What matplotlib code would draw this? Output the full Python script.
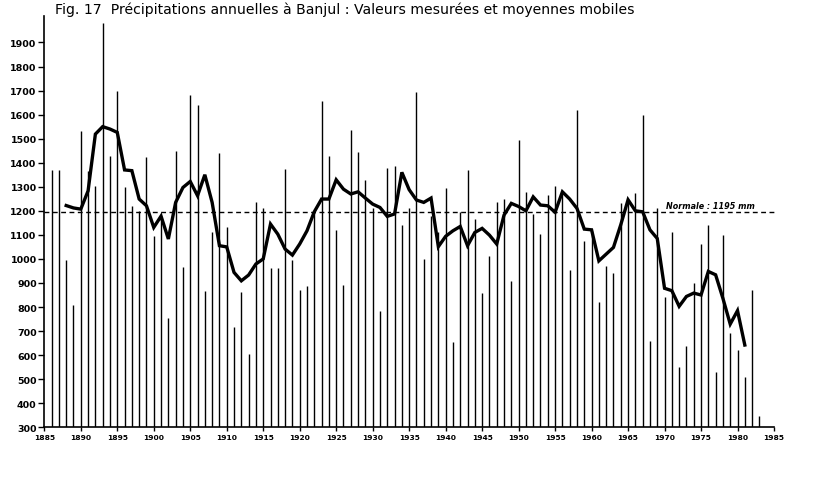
import matplotlib
matplotlib.use("Agg")
import matplotlib.pyplot as plt

# ---- data ----
years = list(range(1886, 1984))
rainfall = [1370, 1368, 995, 810, 1530, 1367, 1302, 1980, 1428, 1700,
            1300, 1220, 1200, 1422, 1097, 1180, 753, 1448, 968, 1680,
            1638, 866, 1112, 1442, 1131, 718, 864, 604, 1238, 1210,
            963, 962, 1372, 997, 872, 889, 1196, 1656, 1428, 1122,
            891, 1538, 1444, 1327, 1210, 782, 1380, 1386, 1139, 1211,
            1695, 1000, 1180, 1110, 1293, 656, 1194, 1368, 1166, 858,
            1013, 1238, 1249, 909, 1496, 1277, 1187, 1103, 1265, 1304,
            1279, 955, 1620, 1075, 1116, 822, 972, 941, 1231, 1245,
            1273, 1598, 660, 1210, 840, 1110, 552, 640, 900, 1062,
            1143, 529, 1100, 692, 621, 511, 871, 346]

ma_years = list(range(1888, 1982))
moving_avg = [1222, 1212, 1207, 1283, 1519, 1550, 1540, 1526, 1370, 1367,
              1249, 1221, 1131, 1178, 1083, 1235, 1297, 1322, 1263, 1350,
              1235, 1055, 1050, 944, 909, 933, 979, 1000, 1145, 1103,
              1041, 1016, 1062, 1117, 1196, 1249, 1249, 1329, 1290, 1270,
              1279, 1253, 1228, 1214, 1177, 1187, 1360, 1288, 1245, 1235,
              1253, 1051, 1094, 1117, 1135, 1055, 1110, 1127, 1099, 1062,
              1182, 1231, 1218, 1200, 1258, 1224, 1221, 1194, 1279, 1249,
              1210, 1124, 1121, 992, 1020, 1048, 1142, 1246, 1200, 1196,
              1121, 1085, 878, 868, 803, 844, 858, 850, 948, 934,
              836, 729, 785, 642]

normal_value = 1195
title_text = "Fig. 17  Précipitations annuelles à Banjul : Valeurs mesurées et moyennes mobiles"
normal_label = "Normale : 1195 mm"
ytick_vals = list(range(300, 2000, 100))
xtick_vals = list(range(1885, 1990, 5))

# ---- figure ----
W, H = 814, 489
fig = plt.figure(figsize=(W / 100, H / 100), dpi=100)
left_px, right_px, bottom_px, top_px = 44.3, 774.0, 428.3, 17.0
ax = fig.add_axes([left_px / W, (H - bottom_px) / H,
                   (right_px - left_px) / W, (bottom_px - top_px) / H])

ax.vlines(years, 300, rainfall, color="black", linewidth=1.0)
ax.plot(ma_years, moving_avg, color="black", linewidth=2.4,
        solid_joinstyle="miter")
ax.axhline(normal_value, color="black", linewidth=1.0,
           linestyle=(0, (3.5, 2.5)), xmin=0, xmax=1.004, clip_on=False)
ax.text(1970.2, normal_value + 8, normal_label, fontsize=5.8,
        fontstyle="italic", fontweight="bold", va="bottom", ha="left")

ax.set_xlim(1885, 1985)
ax.set_ylim(300, 2010)
for s in ("top", "right"):
    ax.spines[s].set_visible(False)
for s in ("left", "bottom"):
    ax.spines[s].set_linewidth(1.2)

ax.set_yticks(ytick_vals)
ax.set_yticklabels([str(v) for v in ytick_vals], fontsize=6.8, fontweight="bold")
ax.set_xticks(xtick_vals)
ax.set_xticklabels([str(v) for v in xtick_vals], fontsize=5.4, fontweight="bold")
ax.tick_params(axis="y", direction="out", length=4, width=1.0, pad=1.5)
ax.tick_params(axis="x", direction="out", length=3, width=1.0, pad=1.5)

fig.text(55 / W, 1 - 10 / H, title_text, fontsize=10.1, ha="left",
         va="center", color="black")

fig.savefig("out.png", dpi=100, facecolor="white")
